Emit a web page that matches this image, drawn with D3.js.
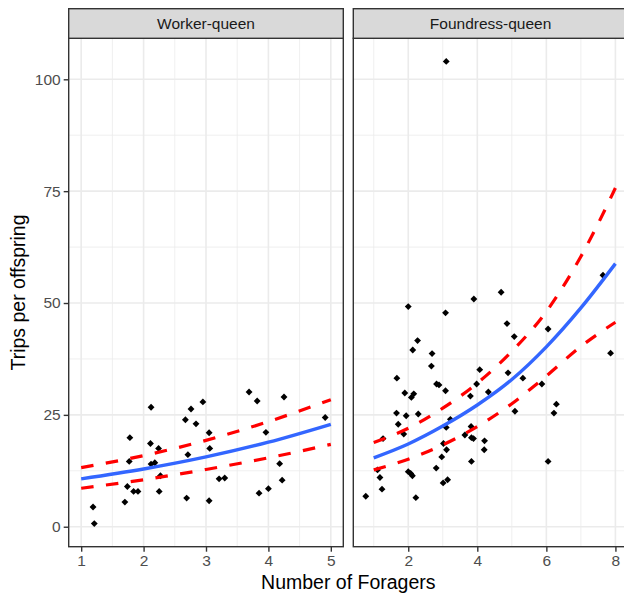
<!DOCTYPE html>
<html>
<head>
<meta charset="utf-8">
<script src="https://cdn.jsdelivr.net/npm/d3@7"></script>
<style>
	body { margin: 0; background: #fff; overflow: hidden; }
	svg { display: block; font-family: "Liberation Sans", Arial, sans-serif; }
</style>
</head>
<body>
<div id="chart"></div>
<script>
	var panelNames = ['Worker-queen', 'Foundress-queen'];

	// Worker-queen points
	var workerX = [1.19, 1.21, 1.70, 1.78, 1.77, 1.74, 1.84, 1.91, 2.12, 2.11, 2.12, 2.18, 2.24, 2.27, 2.25,
		2.67, 2.76, 2.84, 2.95, 2.71, 2.69, 3.05, 3.06, 3.05, 3.21, 3.30, 3.69, 3.82, 3.96, 3.85, 4.00,
		4.25, 4.18, 4.22, 4.91];
	var workerY = [4.4, 0.7, 5.5, 19.9, 14.6, 9.0, 7.9, 7.9, 26.7, 18.6, 14.0, 14.3, 17.5, 11.4, 7.9,
		23.9, 26.3, 23.0, 27.9, 16.1, 6.4, 21.0, 17.5, 5.8, 10.7, 10.9, 30.1, 28.1, 21.1, 7.5, 8.5,
		29.0, 14.1, 10.4, 24.4];

	// Foundress-queen points
	var foundressX = [0.77, 1.11, 1.18, 1.24, 1.27, 1.67, 1.66, 1.71, 1.87, 1.90, 1.94, 2.00, 2.00, 2.07, 2.12,
		2.09, 2.16, 2.13, 2.27, 2.22, 2.29, 2.69, 2.67, 2.81, 2.82, 2.89, 3.02, 3.01, 3.14, 2.97,
		3.11, 3.08, 3.08, 3.10, 3.22, 3.64, 3.80, 3.82, 3.83, 3.89, 3.83, 3.90, 3.98, 4.07, 4.21,
		4.20, 4.32, 4.69, 4.86, 4.89, 5.07, 5.09, 5.32, 5.87, 6.05, 6.05, 6.22, 6.29, 7.64, 7.86, 3.10];
	var foundressY = [6.8, 12.7, 11.0, 8.4, 19.7, 33.2, 25.4, 22.9, 20.7, 29.9, 24.8, 49.2, 12.3, 11.9, 11.4,
		28.9, 29.7, 39.5, 41.6, 6.5, 25.2, 38.7, 35.9, 13.1, 31.9, 31.7, 18.6, 9.8, 10.5, 15.6,
		17.2, 30.4, 47.8, 22.2, 24.0, 20.5, 29.2, 22.4, 19.9, 19.7, 14.6, 50.9, 31.9, 35.1, 19.2,
		17.2, 30.1, 52.4, 45.4, 34.4, 42.5, 25.8, 33.2, 31.9, 44.2, 14.6, 25.4, 27.4, 56.2, 38.8, 104.0];

	// fitted curves and confidence bands
	var workerFitX = [1, 2, 3, 4, 5];
	var workerFit = [10.7, 12.9, 15.6, 18.9, 22.9];
	var workerUpper = [13.2, 15.9, 19.3, 23.5, 28.4];
	var workerLower = [8.6, 10.5, 12.8, 15.4, 18.4];

	var foundressFitX = [1, 2, 3, 4, 5, 6, 7, 8];
	var foundressFit = [15.4, 18.5, 22.5, 27.2, 32.9, 40.2, 48.9, 58.8];
	var foundressUpper = [18.8, 22.0, 26.5, 32.1, 39.2, 48.1, 60.4, 75.7];
	var foundressLower = [12.7, 15.1, 18.3, 22.4, 27.5, 33.7, 40.3, 45.7];

	var yTicks = [0, 25, 50, 75, 100];
	var workerTicks = [1, 2, 3, 4, 5];
	var foundressTicks = [2, 4, 6, 8];

	var fullWidth = 624;
	var fullHeight = 596;
	var panelTop = 38.3;
	var panelBottom = 546.7;
	var stripTop = 8.7;
	var panelWidth = 274.6;
	var panelLefts = [68.7, 353.3];

	function expand(ext) {
		var pad = (ext[1] - ext[0]) * 0.05;
		return [ext[0] - pad, ext[1] + pad];
	}

	var panels = [
		{
			name: panelNames[0], x: workerX, y: workerY, fitX: workerFitX,
			fit: workerFit, upper: workerUpper, lower: workerLower,
			ticks: workerTicks, minor: [1.5, 2.5, 3.5, 4.5]
		},
		{
			name: panelNames[1], x: foundressX, y: foundressY, fitX: foundressFitX,
			fit: foundressFit, upper: foundressUpper, lower: foundressLower,
			ticks: foundressTicks, minor: [1, 3, 5, 7]
		}
	];

	var allY = [].concat(workerY, foundressY, workerUpper, workerLower, foundressUpper, foundressLower);
	var y = d3.scaleLinear()
		.domain(expand(d3.extent(allY)))
		.range([panelBottom, panelTop]);
	var yMinor = [12.5, 37.5, 62.5, 87.5];

	var svg = d3.select('#chart')
		.append('svg')
		.attr('width', fullWidth)
		.attr('height', fullHeight);

	panels.forEach(function(p, i) {
		var left = panelLefts[i];
		var x = d3.scaleLinear()
			.domain(expand(d3.extent(p.x.concat(p.fitX))))
			.range([left, left + panelWidth]);

		var g = svg.append('g');

		// grid
		g.selectAll('.vminor').data(p.minor).enter().append('line')
			.attr('x1', function(d) { return x(d); }).attr('x2', function(d) { return x(d); })
			.attr('y1', panelTop).attr('y2', panelBottom)
			.attr('stroke', '#ebebeb').attr('stroke-width', 0.8);
		g.selectAll('.hminor').data(yMinor).enter().append('line')
			.attr('x1', left).attr('x2', left + panelWidth)
			.attr('y1', function(d) { return y(d); }).attr('y2', function(d) { return y(d); })
			.attr('stroke', '#ebebeb').attr('stroke-width', 0.8);
		g.selectAll('.vmajor').data(p.ticks).enter().append('line')
			.attr('x1', function(d) { return x(d); }).attr('x2', function(d) { return x(d); })
			.attr('y1', panelTop).attr('y2', panelBottom)
			.attr('stroke', '#ebebeb').attr('stroke-width', 1.6);
		g.selectAll('.hmajor').data(yTicks).enter().append('line')
			.attr('x1', left).attr('x2', left + panelWidth)
			.attr('y1', function(d) { return y(d); }).attr('y2', function(d) { return y(d); })
			.attr('stroke', '#ebebeb').attr('stroke-width', 1.6);

		// points
		var pts = p.x.map(function(d, k) { return [d, p.y[k]]; });
		g.selectAll('.pt').data(pts).enter().append('path')
			.attr('d', d3.symbol().type(d3.symbolDiamond2).size(30))
			.attr('transform', function(d) { return 'translate(' + x(d[0]) + ',' + y(d[1]) + ')'; })
			.attr('fill', '#000');

		// fitted lines
		function curve(vals) {
			return d3.line()
				.x(function(d, k) { return x(p.fitX[k]); })
				.y(function(d) { return y(d); })
				.curve(d3.curveMonotoneX)(vals);
		}
		g.append('path').attr('d', curve(p.upper))
			.attr('fill', 'none').attr('stroke', '#ff0000').attr('stroke-width', 3.2)
			.attr('stroke-dasharray', '12.5,12.5');
		g.append('path').attr('d', curve(p.lower))
			.attr('fill', 'none').attr('stroke', '#ff0000').attr('stroke-width', 3.2)
			.attr('stroke-dasharray', '12.5,12.5');
		g.append('path').attr('d', curve(p.fit))
			.attr('fill', 'none').attr('stroke', '#3366ff').attr('stroke-width', 3.4);

		// border
		g.append('rect')
			.attr('x', left).attr('y', panelTop)
			.attr('width', panelWidth).attr('height', panelBottom - panelTop)
			.attr('fill', 'none').attr('stroke', '#333333').attr('stroke-width', 1.4);

		// strip
		g.append('rect')
			.attr('x', left).attr('y', stripTop)
			.attr('width', panelWidth).attr('height', panelTop - stripTop)
			.attr('fill', '#d9d9d9').attr('stroke', '#333333').attr('stroke-width', 1.4);
		g.append('text')
			.attr('x', left + panelWidth / 2).attr('y', (stripTop + panelTop) / 2)
			.attr('dy', '0.35em')
			.attr('text-anchor', 'middle')
			.attr('font-size', 15.5)
			.attr('fill', '#1a1a1a')
			.text(p.name);

		// x axis
		var xAxis = d3.axisBottom(x).tickValues(p.ticks).tickSize(5).tickPadding(3).tickFormat(d3.format('d'));
		var ax = g.append('g')
			.attr('transform', 'translate(0,' + panelBottom + ')')
			.call(xAxis);
		ax.select('.domain').remove();
		ax.selectAll('line').attr('stroke', '#333333').attr('stroke-width', 1.4);
		ax.selectAll('text').attr('font-size', 15.5).attr('fill', '#4d4d4d')
			.attr('font-family', '"Liberation Sans", Arial, sans-serif');
	});

	// y axis
	var yAxis = d3.axisLeft(y).tickValues(yTicks).tickSize(5).tickPadding(3);
	var ay = svg.append('g')
		.attr('transform', 'translate(' + panelLefts[0] + ',0)')
		.call(yAxis);
	ay.select('.domain').remove();
	ay.selectAll('line').attr('stroke', '#333333').attr('stroke-width', 1.4);
	ay.selectAll('text').attr('font-size', 15.5).attr('fill', '#4d4d4d')
		.attr('font-family', '"Liberation Sans", Arial, sans-serif');

	// titles
	svg.append('text')
		.attr('x', (panelLefts[0] + panelLefts[1] + panelWidth) / 2)
		.attr('y', 589)
		.attr('text-anchor', 'middle')
		.attr('font-size', 19.5)
		.attr('fill', '#000')
		.text('Number of Foragers');

	svg.append('text')
		.attr('transform', 'translate(25,' + ((panelTop + panelBottom) / 2) + ') rotate(-90)')
		.attr('text-anchor', 'middle')
		.attr('font-size', 19.5)
		.attr('fill', '#000')
		.text('Trips per offspring');
</script>
</body>
</html>
